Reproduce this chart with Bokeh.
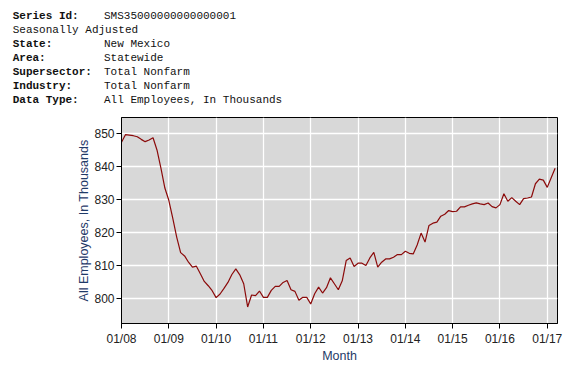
from bokeh.plotting import figure
from bokeh.models import FixedTicker, Div
from bokeh.layouts import column
from bokeh.embed import file_html
from bokeh.resources import INLINE

# ---- data (monthly, Jan 2008 .. Mar 2017) ----
start_year = 2008
employees = [
    # 2008
    847.3, 849.6, 849.5, 849.3, 849.0, 848.2, 847.5, 848.0, 848.7, 845.0, 839.5, 833.5,
    # 2009
    829.8, 824.4, 818.7, 814.0, 813.0, 811.1, 809.6, 809.9, 807.6, 805.3, 804.0, 802.5,
    # 2010
    800.4, 801.5, 803.2, 805.0, 807.4, 809.1, 807.3, 804.6, 797.6, 801.2, 801.0, 802.4,
    # 2011
    800.5, 800.5, 802.6, 803.8, 803.8, 805.0, 805.6, 802.8, 802.3, 799.6, 800.5, 800.5,
    # 2012
    798.5, 801.6, 803.6, 801.8, 803.4, 806.4, 804.6, 802.8, 805.5, 811.6, 812.4, 809.8,
    # 2013
    810.8, 810.8, 810.1, 812.4, 814.1, 809.6, 811.1, 812.1, 812.1, 812.6, 813.4, 813.4,
    # 2014
    814.4, 813.8, 813.6, 816.3, 819.9, 817.2, 822.2, 822.9, 823.2, 825.0, 825.6, 826.7,
    # 2015
    826.4, 826.5, 827.8, 827.8, 828.3, 828.7, 829.0, 828.7, 828.5, 829.0, 827.9, 827.5,
    # 2016
    828.5, 831.8, 829.5, 830.6, 829.5, 828.5, 830.3, 830.5, 830.8, 834.8, 836.2, 835.9,
    # 2017
    833.7, 836.6, 839.5,
]
months = list(range(len(employees)))
tick_labels = ["01/08", "01/09", "01/10", "01/11", "01/12", "01/13", "01/14", "01/15", "01/16", "01/17"]
y_ticks = [800, 810, 820, 830, 840, 850]

header_rows = [
    ("Series Id:", "SMS35000000000000001"),
    (None, "Seasonally Adjusted"),
    ("State:", "New Mexico"),
    ("Area:", "Statewide"),
    ("Supersector:", "Total Nonfarm"),
    ("Industry:", "Total Nonfarm"),
    ("Data Type:", "All Employees, In Thousands"),
]

W = 575
HH = 108            # header strip height
H = 372 - HH        # chart height
FL, FR, FT, FB = 121, 18, 117 - HH, 49

# ---- header strip (HTML) ----
lines = []
for key, val in header_rows:
    if key is None:
        lines.append(f'<div style="height:14px;line-height:14px;white-space:pre;">{val}</div>')
    else:
        lines.append(
            '<div style="height:14px;line-height:14px;white-space:pre;">'
            f'<span style="display:inline-block;width:91.3px;font-weight:bold;">{key}</span>'
            f'<span>{val}</span></div>')
html = ('<div style="padding:9px 0 0 12.7px;font-family:\'Liberation Mono\',monospace;'
        'font-size:11px;color:#111111;">' + "".join(lines) + '</div>')
header = Div(text=html, width=W, height=HH, margin=(0, 0, 0, 0))

# ---- chart ----
p = figure(width=W, height=H, output_backend="svg", toolbar_location=None,
           x_range=(0, 110.6), y_range=(792.6, 854.8),
           min_border_left=FL, min_border_right=FR, min_border_top=FT, min_border_bottom=FB,
           margin=(0, 0, 0, 0))

p.background_fill_color = "#D8D8D8"
p.border_fill_color = "white"
p.outline_line_color = "black"
p.outline_line_width = 1

p.line(months, employees, line_color="#8B0A0A", line_width=1.2)

tick_pos = [12 * i for i in range(len(tick_labels))]
p.xaxis.ticker = FixedTicker(ticks=tick_pos)
p.xaxis.major_label_overrides = {t: l for t, l in zip(tick_pos, tick_labels)}
p.yaxis.ticker = FixedTicker(ticks=y_ticks)

for ax in (p.xaxis, p.yaxis):
    ax.axis_line_color = "black"
    ax.major_tick_line_color = "black"
    ax.major_tick_out = 5
    ax.major_tick_in = 0
    ax.minor_tick_line_color = None
    ax.major_label_text_font = "Liberation Sans"
    ax.major_label_text_font_size = "12px"
    ax.major_label_text_color = "#222222"
    ax.axis_label_text_font = "Liberation Sans"
    ax.axis_label_text_font_size = "12.5px"
    ax.axis_label_text_font_style = "normal"
    ax.axis_label_text_color = "#1F3A68"

p.xaxis.axis_label = "Month"
p.yaxis.axis_label = "All Employees, In Thousands"
p.xaxis.major_label_standoff = 3
p.yaxis.major_label_standoff = 2
p.xaxis.axis_label_standoff = 0
p.yaxis.axis_label_standoff = 0

p.xgrid.grid_line_color = "white"
p.ygrid.grid_line_color = "white"
p.xgrid.grid_line_width = 1.3
p.ygrid.grid_line_width = 1.3

layout = column(header, p, spacing=0)
open("out.html", "w").write(file_html(layout, INLINE))
